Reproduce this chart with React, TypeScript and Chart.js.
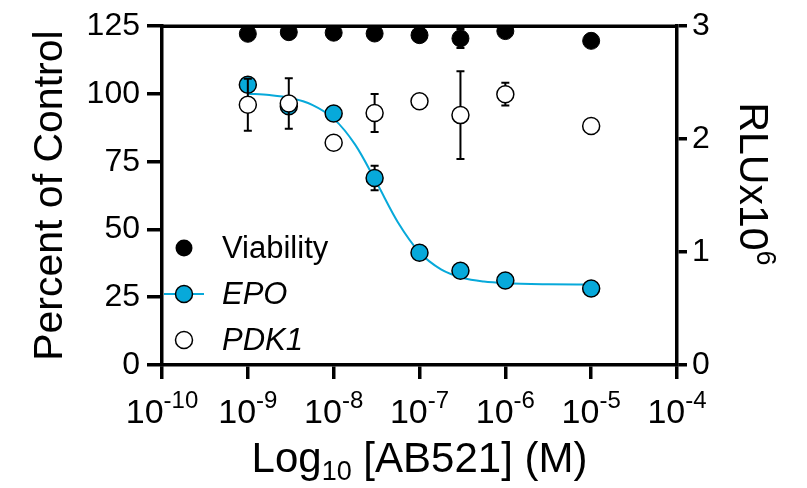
import React, { useEffect, useRef } from 'react';
import { Chart, registerables } from 'chart.js';

Chart.register(...registerables);

// ---- data ----
const concentrations = [1e-9, 3e-9, 1e-8, 3e-8, 1e-7, 3e-7, 1e-6, 1e-5];
const viability = [122.2, 122.8, 122.6, 122.3, 121.7, 120.5, 123.2, 119.6];
const viabilityErr = [0, 0, 0, 0, 0, 3.5, 0, 0];
const epo = [103.4, 95.5, 92.8, 69.0, 41.4, 34.8, 31.2, 28.2];
const epoErr = [0, 0, 0, 4.5, 0, 0, 0, 0];
const pdk1 = [96.0, 96.5, 82.0, 93.0, 97.3, 92.2, 99.9, 88.2];
const pdk1Err = [9.6, 9.3, 0, 7.0, 0, 16.2, 4.2, 0];

// fitted EPO curve
const epoFitX = [1e-9, 1.78e-9, 3.16e-9, 5.62e-9, 1e-8, 1.78e-8, 3.16e-8, 5.62e-8, 1e-7, 1.78e-7, 3.16e-7, 5.62e-7, 1e-6, 3.16e-6, 1e-5];
const epoFitY = [100.1, 99.6, 98.5, 96.0, 90.9, 81.3, 67.3, 52.6, 41.6, 35.3, 32.2, 30.8, 30.2, 29.8, 29.7];

const xTickExponents = ['-10', '-9', '-8', '-7', '-6', '-5', '-4'];
const xTickValues = [1e-10, 1e-9, 1e-8, 1e-7, 1e-6, 1e-5, 1e-4];
const leftTicks = [0, 25, 50, 75, 100, 125];
const rightTicks = [0, 1, 2, 3];

const legendLabels = ['Viability', 'EPO', 'PDK1'];

const CYAN = '#07A9DA';
const FONT = '"Liberation Sans", Arial, sans-serif';
const TICK_SIZE = 32;
const LEGEND_SIZE = 31;
const TITLE_SIZE = 41;

const errorBarPlugin = {
  id: 'errorBars',
  beforeDatasetDraw(chart: any, args: any) {
    const ds = chart.data.datasets[args.index];
    const errs: number[] | undefined = ds.errors;
    if (!errs) return;
    const xs = chart.scales.x;
    const ys = chart.scales.y;
    const ctx = chart.ctx;
    ctx.save();
    ctx.strokeStyle = '#000';
    ctx.lineWidth = 2;
    ds.data.forEach((p: any, i: number) => {
      const e = errs[i];
      if (!e) return;
      const px = xs.getPixelForValue(p.x);
      const yTop = ys.getPixelForValue(p.y + e);
      const yBot = ys.getPixelForValue(p.y - e);
      ctx.beginPath();
      ctx.moveTo(px, yTop);
      ctx.lineTo(px, yBot);
      ctx.moveTo(px - 4, yTop);
      ctx.lineTo(px + 4, yTop);
      ctx.moveTo(px - 4, yBot);
      ctx.lineTo(px + 4, yBot);
      ctx.stroke();
    });
    ctx.restore();
  },
};

function drawSuperText(ctx: CanvasRenderingContext2D, parts: { t: string; s: number; dy: number; italic?: boolean }[], x: number, y: number, align: 'center' | 'left') {
  const widths = parts.map((p) => {
    ctx.font = `${p.italic ? 'italic ' : ''}${p.s}px ${FONT}`;
    return ctx.measureText(p.t).width;
  });
  const total = widths.reduce((a, b) => a + b, 0);
  let cx = align === 'center' ? x - total / 2 : x;
  parts.forEach((p, i) => {
    ctx.font = `${p.italic ? 'italic ' : ''}${p.s}px ${FONT}`;
    ctx.fillText(p.t, cx, y + p.dy);
    cx += widths[i];
  });
}

const textPlugin = {
  id: 'customText',
  afterDraw(chart: any) {
    const ctx: CanvasRenderingContext2D = chart.ctx;
    const { chartArea } = chart;
    const xs = chart.scales.x;
    ctx.save();
    ctx.fillStyle = '#000';
    ctx.textBaseline = 'alphabetic';
    ctx.textAlign = 'left';

    // top frame line
    ctx.strokeStyle = '#000';
    ctx.lineWidth = 3.5;
    ctx.beginPath();
    ctx.moveTo(chartArea.left, chartArea.top);
    ctx.lineTo(chartArea.right, chartArea.top);
    ctx.stroke();

    // x tick labels with superscripts
    xTickValues.forEach((v, i) => {
      const px = xs.getPixelForValue(v);
      drawSuperText(ctx, [
        { t: '10', s: 34, dy: 0 },
        { t: xTickExponents[i], s: 24, dy: -15 },
      ], px, chartArea.bottom + 58, 'center');
    });

    // x title
    drawSuperText(ctx, [
      { t: 'Log', s: 42, dy: 0 },
      { t: '10', s: 27, dy: 8 },
      { t: ' [AB521] (M)', s: 42, dy: 0 },
    ], (chartArea.left + chartArea.right) / 2, 472, 'center');

    // left title
    ctx.save();
    ctx.translate(62, (chartArea.top + chartArea.bottom) / 2);
    ctx.rotate(-Math.PI / 2);
    drawSuperText(ctx, [{ t: 'Percent of Control', s: TITLE_SIZE, dy: 0 }], 0, 0, 'center');
    ctx.restore();

    // right title
    ctx.save();
    ctx.translate(740, 184);
    ctx.rotate(Math.PI / 2);
    drawSuperText(ctx, [
      { t: 'RLUx10', s: TITLE_SIZE, dy: 0 },
      { t: '6', s: 27, dy: -17 },
    ], 0, 0, 'center');
    ctx.restore();

    // legend
    const lx = 184;
    const ly = [248, 294, 340];
    const tx = 222;
    ctx.beginPath();
    ctx.fillStyle = '#000';
    ctx.arc(lx, ly[0], 8.5, 0, Math.PI * 2);
    ctx.fill();
    ctx.strokeStyle = CYAN;
    ctx.lineWidth = 2;
    ctx.beginPath();
    ctx.moveTo(lx - 20, ly[1]);
    ctx.lineTo(lx + 20, ly[1]);
    ctx.stroke();
    ctx.beginPath();
    ctx.fillStyle = CYAN;
    ctx.arc(lx, ly[1], 8.5, 0, Math.PI * 2);
    ctx.fill();
    ctx.strokeStyle = '#000';
    ctx.lineWidth = 1.5;
    ctx.stroke();
    ctx.beginPath();
    ctx.fillStyle = '#fff';
    ctx.arc(lx, ly[2], 8.5, 0, Math.PI * 2);
    ctx.fill();
    ctx.stroke();

    ctx.fillStyle = '#000';
    ctx.textBaseline = 'middle';
    drawSuperText(ctx, [{ t: legendLabels[0], s: LEGEND_SIZE, dy: 1 }], tx, ly[0], 'left');
    drawSuperText(ctx, [{ t: legendLabels[1], s: LEGEND_SIZE, dy: 1, italic: true }], tx, ly[1], 'left');
    drawSuperText(ctx, [{ t: legendLabels[2], s: LEGEND_SIZE, dy: 1, italic: true }], tx, ly[2], 'left');
    ctx.restore();
  },
};

export default function App() {
  const ref = useRef<HTMLCanvasElement | null>(null);

  useEffect(() => {
    document.body.style.margin = '0';
    document.body.style.overflow = 'hidden';
    if (!ref.current) return;
    const toXY = (ys: number[]) => concentrations.map((c, i) => ({ x: c, y: ys[i] }));
    const axisGrid = {
      drawOnChartArea: false,
      drawTicks: true,
      color: '#000',
      lineWidth: 3.5,
    };
    const chart = new Chart(ref.current, {
      type: 'scatter',
      data: {
        datasets: [
          {
            label: 'PDK1',
            data: toXY(pdk1),
            errors: pdk1Err,
            backgroundColor: '#fff',
            borderColor: '#000',
            borderWidth: 1.5,
            pointRadius: 8.5,
            order: 1,
          } as any,
          {
            label: 'EPO',
            data: toXY(epo),
            errors: epoErr,
            backgroundColor: CYAN,
            borderColor: '#000',
            borderWidth: 1.5,
            pointRadius: 8.5,
            order: 2,
          } as any,
          {
            label: 'EPO fit',
            data: epoFitX.map((x, i) => ({ x, y: epoFitY[i] })),
            showLine: true,
            borderColor: CYAN,
            borderWidth: 2,
            pointRadius: 0,
            cubicInterpolationMode: 'monotone',
            order: 3,
          } as any,
          {
            label: 'Viability',
            data: toXY(viability),
            errors: viabilityErr,
            backgroundColor: '#000',
            borderColor: '#000',
            borderWidth: 1,
            pointRadius: 8.5,
            order: 4,
          } as any,
        ],
      },
      options: {
        animation: false,
        responsive: true,
        maintainAspectRatio: false,
        layout: { padding: { top: 21, left: 0, right: 0, bottom: 0 } },
        plugins: { legend: { display: false }, tooltip: { enabled: false } },
        scales: {
          x: {
            type: 'logarithmic',
            min: 1e-10,
            max: 1e-4,
            grid: { ...axisGrid, tickLength: 14 },
            border: { display: true, color: '#000', width: 3.5 },
            ticks: { display: false },
            afterBuildTicks: (s: any) => {
              s.ticks = xTickValues.map((v) => ({ value: v }));
            },
            afterFit: (s: any) => {
              s.height = 123;
            },
          },
          y: {
            type: 'linear',
            position: 'left',
            min: 0,
            max: 125,
            grid: { ...axisGrid, tickLength: 15 },
            border: { display: true, color: '#000', width: 3.5 },
            afterBuildTicks: (s: any) => {
              s.ticks = leftTicks.map((v) => ({ value: v }));
            },
            ticks: {
              color: '#000',
              padding: 7,
              font: { family: FONT, size: TICK_SIZE },
            },
            afterFit: (s: any) => {
              s.width = 162;
            },
          },
          y1: {
            type: 'linear',
            position: 'right',
            min: 0,
            max: 3,
            grid: { ...axisGrid, tickLength: 10 },
            border: { display: true, color: '#000', width: 3.5 },
            afterBuildTicks: (s: any) => {
              s.ticks = rightTicks.map((v) => ({ value: v }));
            },
            ticks: {
              color: '#000',
              padding: 5,
              font: { family: FONT, size: TICK_SIZE },
            },
            afterFit: (s: any) => {
              s.width = 130;
            },
          },
        },
      } as any,
      plugins: [errorBarPlugin, textPlugin],
    });
    return () => chart.destroy();
  }, []);

  return (
    <div style={{ width: '807px', height: '488px', position: 'relative' }}>
      <canvas ref={ref} />
    </div>
  );
}
